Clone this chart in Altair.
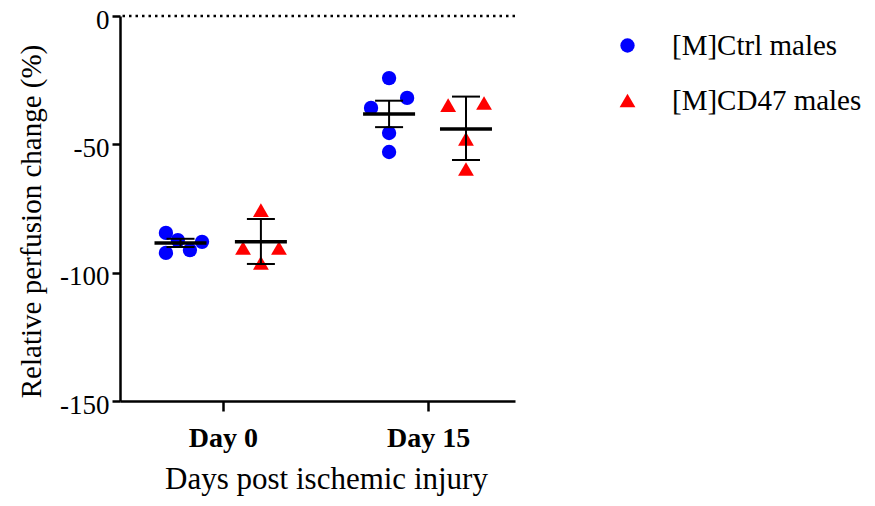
import altair as alt
import pandas as pd

groups = ["[M]Ctrl males", "[M]CD47 males"]
day_labels = ["Day 0", "Day 15"]

# individual points: x position (day index + jitter), value
ctrl_d0_x = [-0.278, -0.220, -0.278, -0.161, -0.102]
ctrl_d0_y = [-84.5, -87.3, -92.3, -91.2, -88.0]
cd47_d0_x = [0.185, 0.098, 0.273, 0.185]
cd47_d0_y = [-75.6, -90.4, -90.4, -96.2]
ctrl_d15_x = [0.810, 0.898, 0.722, 0.810, 0.810]
ctrl_d15_y = [-24.2, -31.9, -35.8, -45.6, -53.0]
cd47_d15_x = [1.098, 1.273, 1.185, 1.185]
cd47_d15_y = [-34.7, -33.9, -47.9, -59.6]

# summary: group centers, means, error limits
sum_group = ["[M]Ctrl males", "[M]CD47 males", "[M]Ctrl males", "[M]CD47 males"]
sum_x = [-0.207, 0.185, 0.810, 1.185]
sum_mean = [-88.4, -88.0, -38.2, -44.0]
sum_low = [-90.0, -96.6, -43.3, -56.1]
sum_high = [-86.8, -79.1, -33.0, -31.4]

rows = []
for g, xs, ys in [(groups[0], ctrl_d0_x, ctrl_d0_y), (groups[1], cd47_d0_x, cd47_d0_y),
                  (groups[0], ctrl_d15_x, ctrl_d15_y), (groups[1], cd47_d15_x, cd47_d15_y)]:
    for x, y in zip(xs, ys):
        rows.append({"group": g, "x": x, "y": y})
pts = pd.DataFrame(rows)
summ = pd.DataFrame({"group": sum_group, "x": sum_x, "mean": sum_mean,
                     "low": sum_low, "high": sum_high})

FONT = "Liberation Serif"
xscale = alt.Scale(domain=[-0.502, 1.424], nice=False, zero=False)
yscale = alt.Scale(domain=[-150, 0], nice=False)

xaxis = alt.Axis(values=[0, 1], labelExpr="datum.value == 0 ? 'Day 0' : 'Day 15'",
                 title="Days post ischemic injury", grid=False, tickSize=10, tickWidth=2.5,
                 domainWidth=2.5, domainColor="black", tickColor="black",
                 labelFont=FONT, labelFontSize=28, labelFontWeight="bold", labelColor="black",
                 labelPadding=13, titleFont=FONT, titleFontSize=31, titleFontWeight="normal",
                 titleColor="black", titlePadding=12, titleX=206)
yaxis = alt.Axis(values=[0, -50, -100, -150], title="Relative perfusion change (%)", grid=False,
                 labelExpr="datum.value == 0 ? '0' : '-' + abs(datum.value)",
                 tickSize=8, tickWidth=2.5, domainWidth=2.5, domainColor="black", tickColor="black",
                 labelFont=FONT, labelFontSize=27, labelColor="black", labelPadding=3,
                 labelOffset=4,
                 titleFont=FONT, titleFontSize=29, titleFontWeight="normal", titleColor="black",
                 titlePadding=13, titleY=205)

zero = alt.Chart(pd.DataFrame({"y": [0]})).mark_rule(
    color="black", strokeWidth=2.5, strokeDash=[2.5, 4]).encode(
    y=alt.Y("y:Q", scale=yscale, axis=yaxis))

points = alt.Chart(pts).mark_point(filled=True, opacity=1).encode(
    x=alt.X("x:Q", scale=xscale, axis=xaxis),
    y=alt.Y("y:Q", scale=yscale, axis=yaxis),
    color=alt.Color("group:N", scale=alt.Scale(domain=groups, range=["#0000FF", "#FF0000"]),
                    legend=alt.Legend(title=None, orient="none", legendX=493, legendY=15,
                                      labelFont=FONT, labelFontSize=29, labelColor="black",
                                      labelLimit=400,
                                      symbolSize=210, labelOffset=30, rowPadding=25,
                                      symbolStrokeWidth=0)),
    shape=alt.Shape("group:N", scale=alt.Scale(domain=groups, range=["circle", "triangle-up"])),
    size=alt.Size("group:N", scale=alt.Scale(domain=groups, range=[205, 250]), legend=None),
)

vbar = alt.Chart(summ).mark_rule(color="black", strokeWidth=2).encode(
    x=alt.X("x:Q", scale=xscale), y=alt.Y("low:Q", scale=yscale), y2="high:Q")
cap_lo = alt.Chart(summ).mark_tick(color="black", opacity=1, thickness=2, size=28,
                                   orient="horizontal").encode(
    x=alt.X("x:Q", scale=xscale), y=alt.Y("low:Q", scale=yscale))
cap_hi = alt.Chart(summ).mark_tick(color="black", opacity=1, thickness=2, size=28,
                                   orient="horizontal").encode(
    x=alt.X("x:Q", scale=xscale), y=alt.Y("high:Q", scale=yscale))
mean = alt.Chart(summ).mark_tick(color="black", opacity=1, thickness=3.5, size=52,
                                 orient="horizontal").encode(
    x=alt.X("x:Q", scale=xscale), y=alt.Y("mean:Q", scale=yscale))

chart = alt.layer(zero, points, vbar, cap_lo, cap_hi, mean).properties(
    width=395, height=385,
    autosize=alt.AutoSizeParams(type="none"),
    padding={"left": 112, "top": 8, "right": 352, "bottom": 97},
).configure_view(stroke=None)

chart.save("out.html", embed_options={"renderer": "svg", "actions": False})
